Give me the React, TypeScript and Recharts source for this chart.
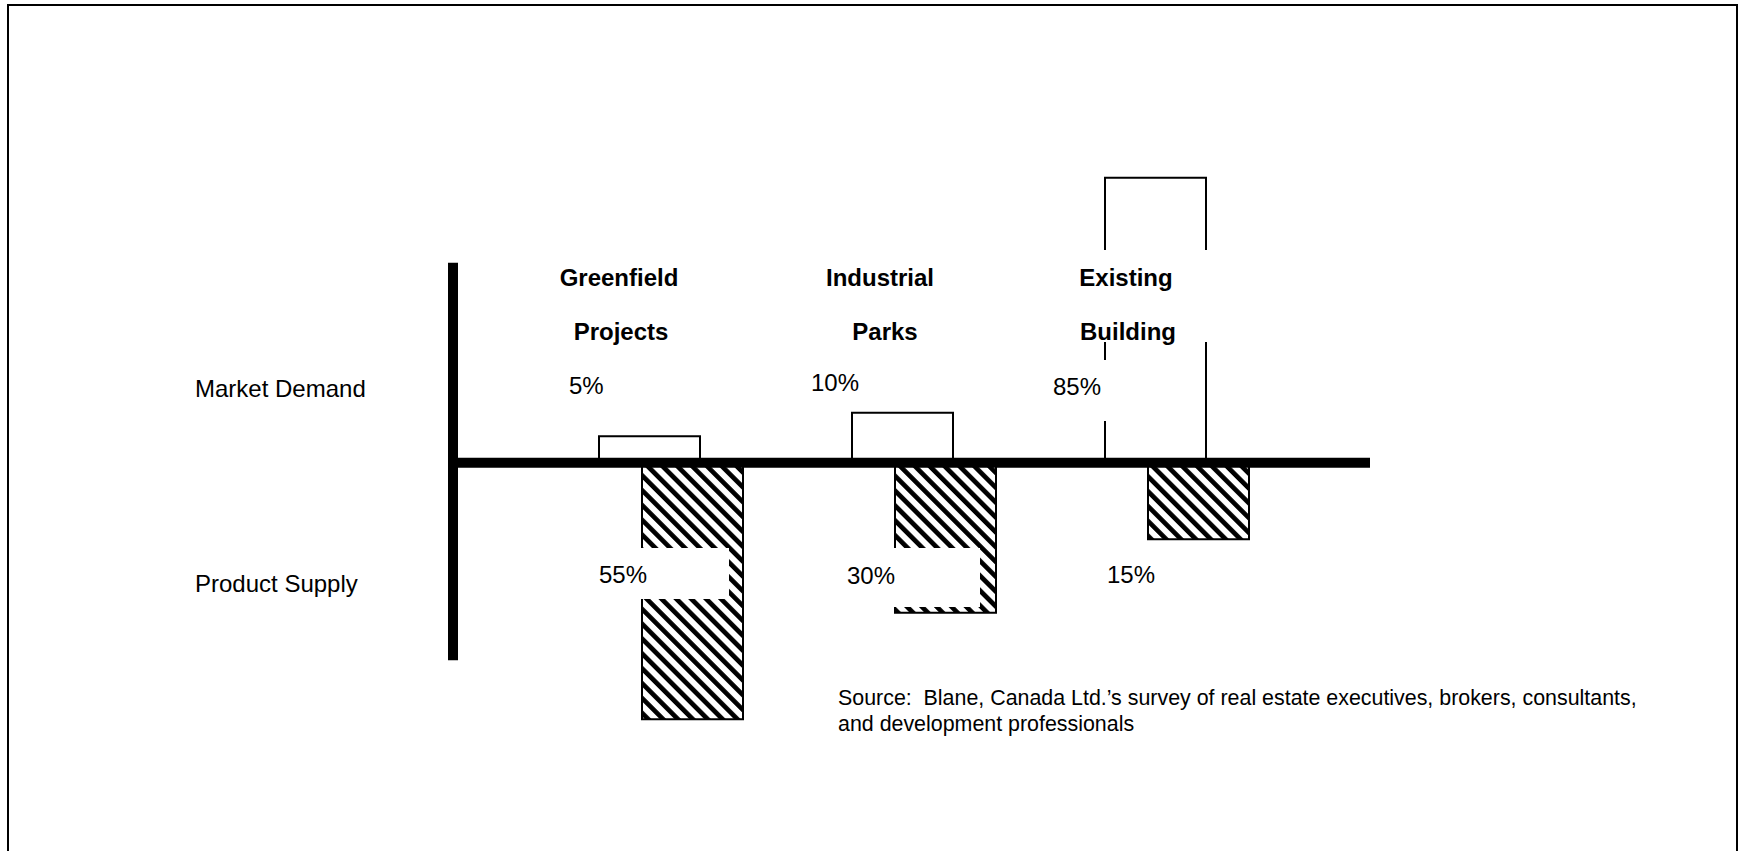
import React from 'react';
import { BarChart, Bar, XAxis, YAxis, ReferenceLine } from 'recharts';

// categories and values
const categories = ['Greenfield Projects', 'Industrial Parks', 'Existing Building'];
const titleLine1 = ['Greenfield', 'Industrial', 'Existing'];
const titleLine2 = ['Projects', 'Parks', 'Building'];
const demandLabels = ['5%', '10%', '85%'];
const supplyLabels = ['55%', '30%', '15%'];
// bar lengths as drawn in the original (the 55% and 85% bars are not to scale)
const demandBars = [5.3, 10, 57];
const supplyBars = [-51.3, -30, -15.3];
const rowLabels = ['Market Demand', 'Product Supply'];
const sourceLines = [
    'Source:  Blane, Canada Ltd.\u2019s survey of real estate executives, brokers, consultants,',
    'and development professionals',
];

const data = categories.map((name, i) => ({
    name,
    demand: demandBars[i],
    supply: supplyBars[i],
}));

const W = 1739;
const H = 851;
const FONT = '"Liberation Sans", Arial, Helvetica, sans-serif';

// text layout (px)
const titleX1 = [619, 880, 1126];
const titleX2 = [621, 885, 1128];
const demandLabelX = [569, 811, 1053];
const demandLabelY = [394, 391, 395];
const supplyLabelX = [599, 847, 1107];
const supplyLabelY = [583, 584, 583];
const rowLabelY = [397, 592];
// white text backgrounds that break the bar outlines in the original
const masks = [
    { x: 585, y: 548, w: 144, h: 51 },
    { x: 838, y: 548, w: 142, h: 59 },
    { x: 1072, y: 250, w: 144, h: 92 },
    { x: 1042, y: 360, w: 70, h: 61 },
];

export default function App() {
    return (
        <div
            style={{
                position: 'absolute',
                left: 0,
                top: 0,
                width: W,
                height: H,
                overflow: 'hidden',
                background: '#fff',
            }}
        >
            {/* page frame */}
            <div
                style={{
                    position: 'absolute',
                    left: 7,
                    top: 4,
                    width: 1727,
                    height: 900,
                    border: '2px solid #000',
                    borderBottom: 'none',
                }}
            />
            <div style={{ position: 'absolute', left: 0, top: 0 }}>
                <BarChart
                    width={W}
                    height={H}
                    data={data}
                    barGap={-58}
                    margin={{ top: 162.7, right: W - 1370, bottom: H - 762.7, left: 453 }}
                >
                    <defs>
                        <pattern
                            id="hatch"
                            patternUnits="userSpaceOnUse"
                            width="10.5"
                            height="10.5"
                            patternTransform="rotate(-45)"
                        >
                            <rect width="10.5" height="10.5" fill="#fff" />
                            <rect width="4.7" height="10.5" fill="#000" />
                        </pattern>
                    </defs>
                    <XAxis dataKey="name" type="category" hide padding={{ left: 91, right: 67 }} />
                    <XAxis xAxisId="frame" type="number" domain={[0, 100]} allowDataOverflow hide />
                    <YAxis type="number" domain={[-60, 60]} allowDataOverflow hide />
                    <Bar
                        dataKey="demand"
                        fill="#fff"
                        stroke="#000"
                        strokeWidth={2}
                        barSize={101}
                        isAnimationActive={false}
                    />
                    <Bar
                        dataKey="supply"
                        fill="url(#hatch)"
                        stroke="#000"
                        strokeWidth={2}
                        barSize={101}
                        isAnimationActive={false}
                    />
                    <ReferenceLine y={0} stroke="#000" strokeWidth={10} />
                    <ReferenceLine
                        xAxisId="frame"
                        segment={[{ x: 0, y: 40 }, { x: 0, y: -39.5 }]}
                        stroke="#000"
                        strokeWidth={10}
                    />
                </BarChart>
            </div>
            {/* labels sit above the bars, on white backgrounds */}
            <svg
                width={W}
                height={H}
                style={{ position: 'absolute', left: 0, top: 0, pointerEvents: 'none' }}
            >
                <g fontFamily={FONT} fill="#000" style={{ whiteSpace: 'pre' }}>
                    {masks.map((m, i) => (
                        <rect key={'m' + i} x={m.x} y={m.y} width={m.w} height={m.h} fill="#fff" />
                    ))}
                    {titleLine1.map((t, i) => (
                        <text key={'t1' + i} x={titleX1[i]} y={285.5} fontSize={24} fontWeight="bold" textAnchor="middle">
                            {t}
                        </text>
                    ))}
                    {titleLine2.map((t, i) => (
                        <text key={'t2' + i} x={titleX2[i]} y={340} fontSize={24} fontWeight="bold" textAnchor="middle">
                            {t}
                        </text>
                    ))}
                    {demandLabels.map((t, i) => (
                        <text key={'d' + i} x={demandLabelX[i]} y={demandLabelY[i]} fontSize={24}>
                            {t}
                        </text>
                    ))}
                    {supplyLabels.map((t, i) => (
                        <text key={'s' + i} x={supplyLabelX[i]} y={supplyLabelY[i]} fontSize={24}>
                            {t}
                        </text>
                    ))}
                    {rowLabels.map((t, i) => (
                        <text key={'r' + i} x={195} y={rowLabelY[i]} fontSize={24}>
                            {t}
                        </text>
                    ))}
                    {sourceLines.map((t, i) => (
                        <text key={'src' + i} x={838} y={705 + i * 26} fontSize={21.4} xmlSpace="preserve">
                            {t}
                        </text>
                    ))}
                </g>
            </svg>
        </div>
    );
}
